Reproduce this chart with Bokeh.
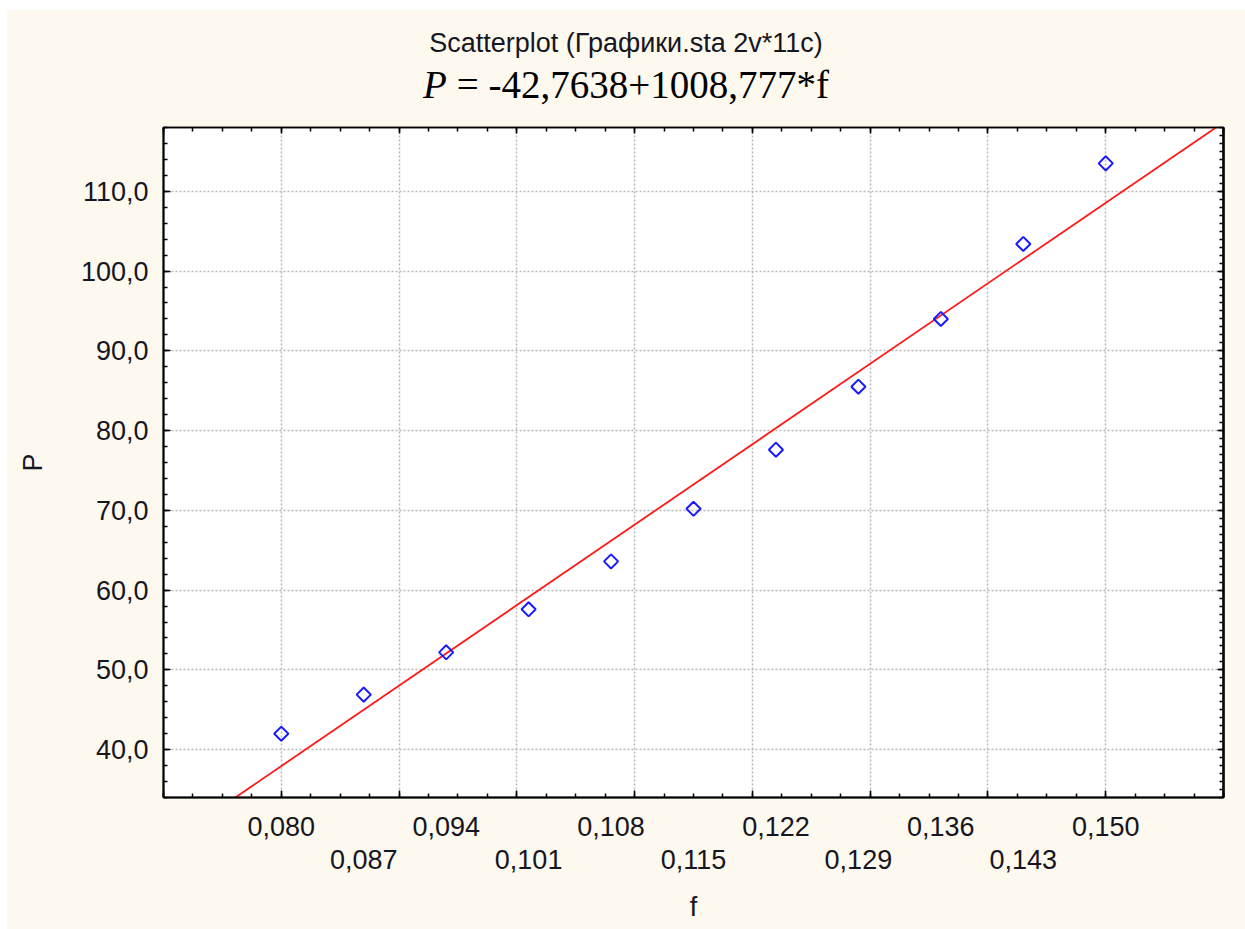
from bokeh.plotting import figure
from bokeh.models import (LinearAxis, FixedTicker, CustomJSTickFormatter,
                          Range1d, Spacer, Div)
from bokeh.layouts import column, row
from bokeh.embed import file_html
from bokeh.resources import INLINE

# ---- data -------------------------------------------------------------
f_vals = [0.080, 0.087, 0.094, 0.101, 0.108, 0.115, 0.122, 0.129, 0.136, 0.143, 0.150]
p_vals = [42.0, 46.9, 52.2, 57.6, 63.6, 70.2, 77.6, 85.5, 94.0, 103.4, 113.5]

# fitted line P = a + b*f
intercept = -42.7638
slope = 1008.777

title_text = "Scatterplot (Графики.sta 2v*11c)"
eq_lhs = "P"
eq_rhs = "= -42,7638+1008,777*f"

x_label_row1 = [0.080, 0.094, 0.108, 0.122, 0.136, 0.150]
x_label_row2 = [0.087, 0.101, 0.115, 0.129, 0.143]
x_grid = [0.08, 0.09, 0.10, 0.11, 0.12, 0.13, 0.14, 0.15]
x_frame_ticks = [0.07, 0.08, 0.09, 0.10, 0.11, 0.12, 0.13, 0.14, 0.15, 0.16]
y_ticks = [40, 50, 60, 70, 80, 90, 100, 110]

x_lo, x_hi = 0.07, 0.16
y_lo, y_hi = 34.0, 118.0

# ---- styling ----------------------------------------------------------
CREAM = "#fef9ef"
TXT = "#161622"
SANS = "Liberation Sans"
SERIF = "Liberation Serif"
FS = "27px"
PAGE_W = 1238

p = figure(frame_width=1060, frame_height=670,
           min_border_left=156, min_border_right=22,
           min_border_top=5, min_border_bottom=132,
           x_range=Range1d(x_lo, x_hi), y_range=Range1d(y_lo, y_hi),
           output_backend="svg", toolbar_location=None,
           background_fill_color="white", border_fill_color=CREAM,
           outline_line_color="black", outline_line_width=1.5)

minor_x = [round(x_lo + 0.0025 * k, 4) for k in range(int(round((x_hi - x_lo) / 0.0025)) + 1)]
minor_y_left = [y_lo + 2 * k for k in range(int((y_hi - y_lo) / 2) + 1)]
minor_y_right = [y_lo + k for k in range(int(y_hi - y_lo) + 1)]


def ticks_only(ax):
    # frame axis that shows inward tick marks but no labels
    ax.major_tick_out = 0
    ax.minor_tick_out = 0
    ax.major_tick_line_width = 1.5
    ax.minor_tick_line_width = 1.5
    ax.major_label_text_font_size = "1px"
    ax.major_label_text_color = None
    ax.major_label_standoff = 0


# bottom axis: tick marks only
ax_a = p.xaxis[0]
ax_a.ticker = FixedTicker(ticks=x_frame_ticks, minor_ticks=minor_x)
ticks_only(ax_a)
ax_a.major_tick_in = 7
ax_a.minor_tick_in = 4
ax_a.axis_line_width = 2

xfmt = CustomJSTickFormatter(code="return tick.toFixed(3).replace('.', ',')")


def label_axis(ticks, standoff):
    ax = LinearAxis(ticker=FixedTicker(ticks=ticks, minor_ticks=[]), formatter=xfmt)
    ax.axis_line_color = None
    ax.major_tick_line_color = None
    ax.minor_tick_line_color = None
    ax.major_tick_in = 0
    ax.major_tick_out = 0
    ax.minor_tick_in = 0
    ax.minor_tick_out = 0
    ax.major_label_standoff = standoff
    ax.major_label_text_font = SANS
    ax.major_label_text_font_size = FS
    ax.major_label_text_color = TXT
    return ax


ax_b = label_axis(x_label_row1, 19)
ax_c = label_axis(x_label_row2, 11)
ax_c.axis_label = "f"
ax_c.axis_label_standoff = 20
ax_c.axis_label_text_font = SANS
ax_c.axis_label_text_font_size = FS
ax_c.axis_label_text_font_style = "normal"
ax_c.axis_label_text_color = TXT
p.add_layout(ax_b, "below")
p.add_layout(ax_c, "below")

# left axis
ay = p.yaxis[0]
ay.ticker = FixedTicker(ticks=y_ticks, minor_ticks=minor_y_left)
ay.formatter = CustomJSTickFormatter(code="return tick.toFixed(1).replace('.', ',')")
ay.major_tick_in = 7
ay.major_tick_out = 0
ay.minor_tick_in = 4
ay.minor_tick_out = 0
ay.major_tick_line_width = 1.5
ay.minor_tick_line_width = 1.5
ay.axis_line_width = 2
ay.major_label_standoff = 15
ay.major_label_text_font = SANS
ay.major_label_text_font_size = FS
ay.major_label_text_color = TXT
ay.axis_label = "P"
ay.axis_label_standoff = 30
ay.axis_label_text_font = SANS
ay.axis_label_text_font_size = FS
ay.axis_label_text_font_style = "normal"
ay.axis_label_text_color = TXT

# top and right frame axes
ax_top = LinearAxis(ticker=FixedTicker(ticks=x_frame_ticks, minor_ticks=minor_x))
ay_right = LinearAxis(ticker=FixedTicker(ticks=y_ticks, minor_ticks=minor_y_right))
for ax in (ax_top, ay_right):
    ticks_only(ax)
    ax.major_tick_in = 6
    ax.minor_tick_in = 4
ax_top.axis_line_width = 1.5
ay_right.axis_line_width = 2.5
p.add_layout(ax_top, "above")
p.add_layout(ay_right, "right")

# dotted grid
p.xgrid.ticker = FixedTicker(ticks=x_grid)
p.ygrid.ticker = FixedTicker(ticks=y_ticks)
for g in (p.xgrid, p.ygrid):
    g.grid_line_color = "#b8b8b8"
    g.grid_line_dash = "2 2"
    g.grid_line_width = 1.5

# regression line across the visible f range
fit_x = [x_lo, x_hi]
fit_y = [intercept + slope * x for x in fit_x]
p.line(fit_x, fit_y, line_color="#ff1a1a", line_width=1.8)

# observations (open diamonds)
p.scatter(f_vals, p_vals, marker="square", angle=0.7853981634, size=10,
          fill_color=None, line_color="#1a1aff", line_width=2)

# two-line heading: dataset caption and the fitted equation
heading_html = (
    f'<div style="position:relative;width:{PAGE_W}px;height:112px;background:{CREAM};">'
    f'<div style="position:absolute;left:0;top:20px;width:{PAGE_W}px;text-align:center;'
    f"font-family:'{SANS}';font-size:27px;line-height:1;color:{TXT};white-space:nowrap;\">"
    f'{title_text}</div>'
    f'<div style="position:absolute;left:0;top:55px;width:{PAGE_W}px;text-align:center;'
    f"font-family:'{SERIF}';font-size:39px;line-height:1;color:#000;white-space:nowrap;\">"
    f'<i>{eq_lhs}</i> {eq_rhs}</div>'
    '</div>'
)
heading = Div(text=heading_html, width=PAGE_W, height=112, margin=0,
              styles={"background-color": CREAM})

body = column(heading, p, styles={"background-color": CREAM})
layout = column(Spacer(height=10), row(Spacer(width=7), body))
open("out.html", "w").write(file_html(layout, INLINE))
